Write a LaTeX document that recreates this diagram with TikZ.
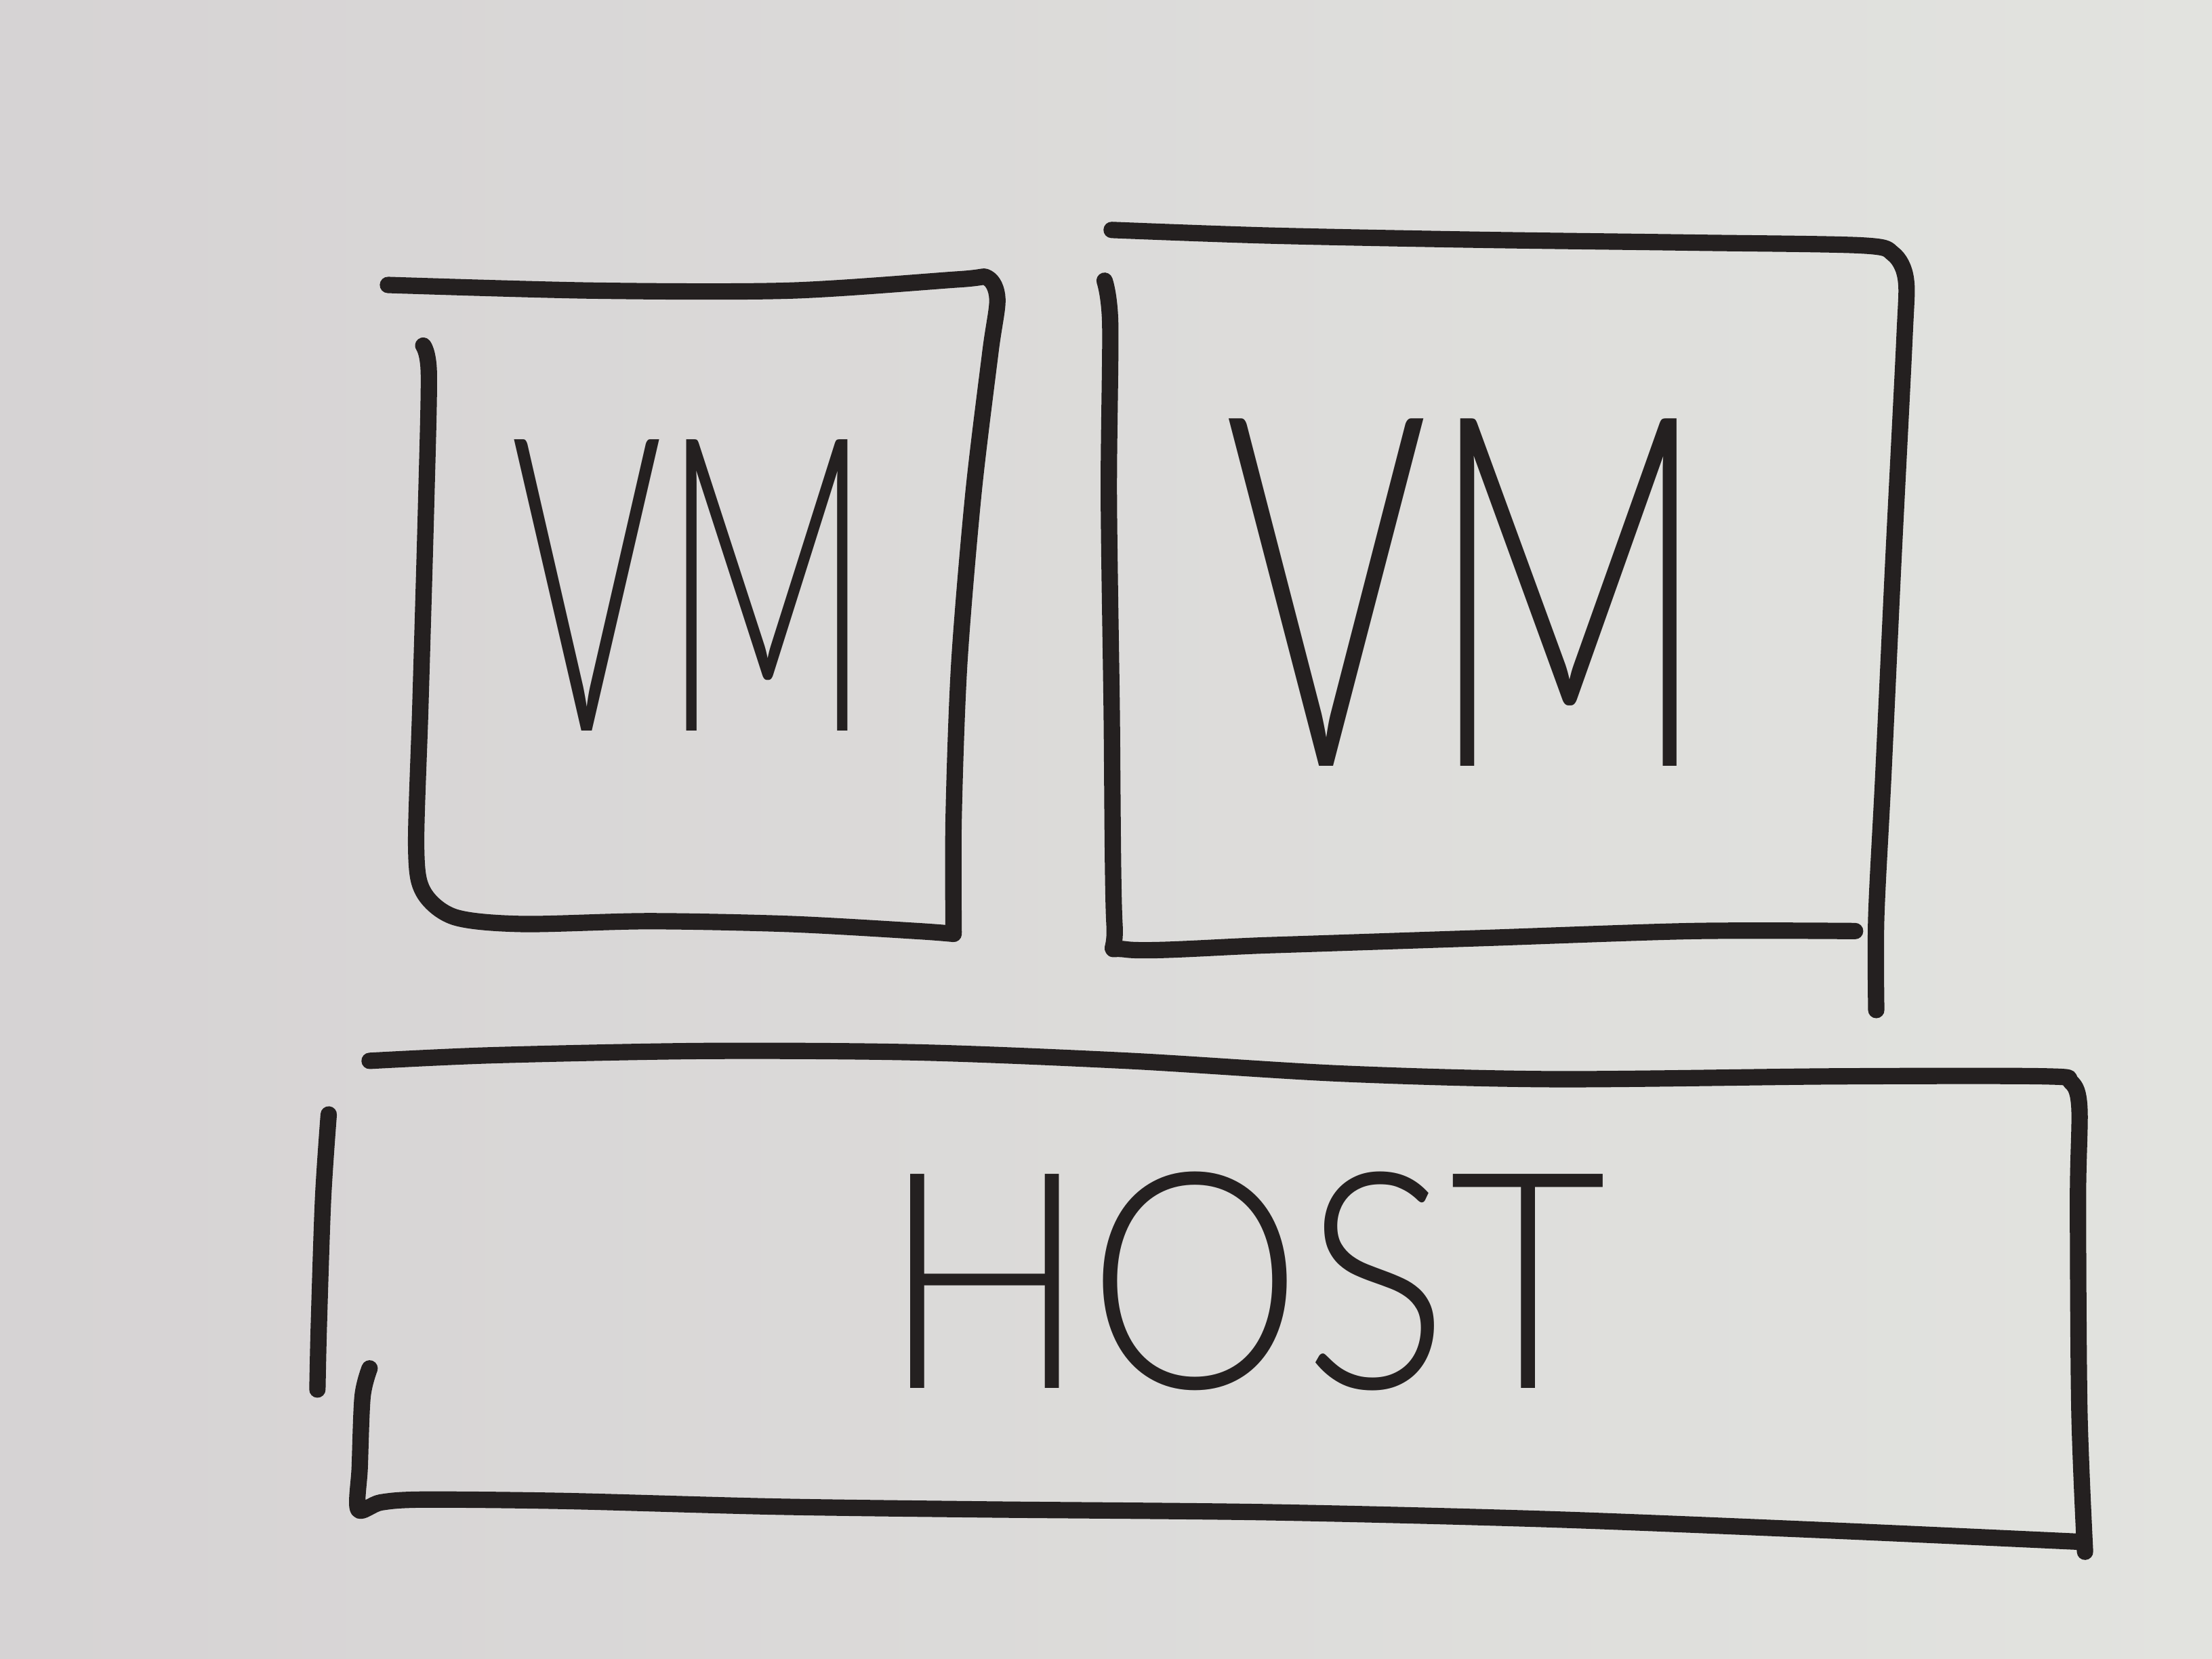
\documentclass[tikz,border=0pt]{standalone}
\usepackage{fontspec}
\usepackage{xcolor}
\usetikzlibrary{positioning}
\newfontfamily\handfont{Lato Light}
\definecolor{boardl}{RGB}{214,211,212}
\definecolor{boardr}{RGB}{226,227,223}
\definecolor{ink}{RGB}{36,32,32}
\tikzset{
    pen/.style={line width=3.3pt, color=ink, line cap=round, line join=round},
    scrawl/.style={inner sep=0pt, text=ink, transform shape}
}

\begin{document}
\begin{tikzpicture}[x=0.01cm, y=-0.01cm]

    % Whiteboard.
    \shade[left color=boardl, right color=boardr] (0,0) rectangle (1568,1176);
    \useasboundingbox (0,0) rectangle (1568,1176);

    % Left VM box.
    \draw[pen] plot[smooth, tension=0.5] coordinates {(275,202) (420,206) (560,206)
        (680,198) (700,197) (707,212) (702,250) (690,350) (680,470) (676,580) (676,661)};
    \draw[pen] plot[smooth, tension=0.5] coordinates {(300,245) (304,265) (302,360)
        (298,500) (295,600) (300,632) (322,650) (370,655) (460,653) (560,655) (650,660) (676,662)};
    \node[scrawl, xscale=0.56] (vmleft) at (490,415)
        {\handfont\fontsize{83}{90}\selectfont VM};

    % Right VM box.
    \draw[pen] plot[smooth, tension=0.5] coordinates {(788,163) (900,167) (1050,170)
        (1200,172) (1320,174) (1342,180) (1351,198) (1350,240) (1342,400) (1335,550)
        (1330,650) (1330,716)};
    \draw[pen] plot[smooth, tension=0.5] coordinates {(783,199) (787,230) (786,350)
        (788,500) (790,655) (798,673) (900,670) (1050,665) (1200,660) (1315,660)};
    \node[scrawl, xscale=0.63] (vmright) at (1040,420)
        {\handfont\fontsize{99}{105}\selectfont VM};

    % Host box.
    \draw[pen] plot[smooth, tension=0.5] coordinates {(262,752) (350,748) (500,745)
        (650,746) (800,752) (950,761) (1100,765) (1300,763) (1450,763) (1468,767)
        (1474,785) (1473,850) (1474,1000) (1478,1100)};
    \draw[pen] plot[smooth, tension=0.5] coordinates {(233,790) (229,850) (226,940) (225,985)};
    \draw[pen] plot[smooth, tension=0.5] coordinates {(262,970) (257,990) (255,1040)
        (254,1070) (270,1065) (300,1063) (400,1064) (550,1068) (700,1070) (900,1072)
        (1100,1077) (1300,1085) (1476,1093)};
    \node[scrawl, xscale=0.9] (host) at (882,908)
        {\handfont\fontsize{61}{66}\selectfont HOST};

\end{tikzpicture}
\end{document}
